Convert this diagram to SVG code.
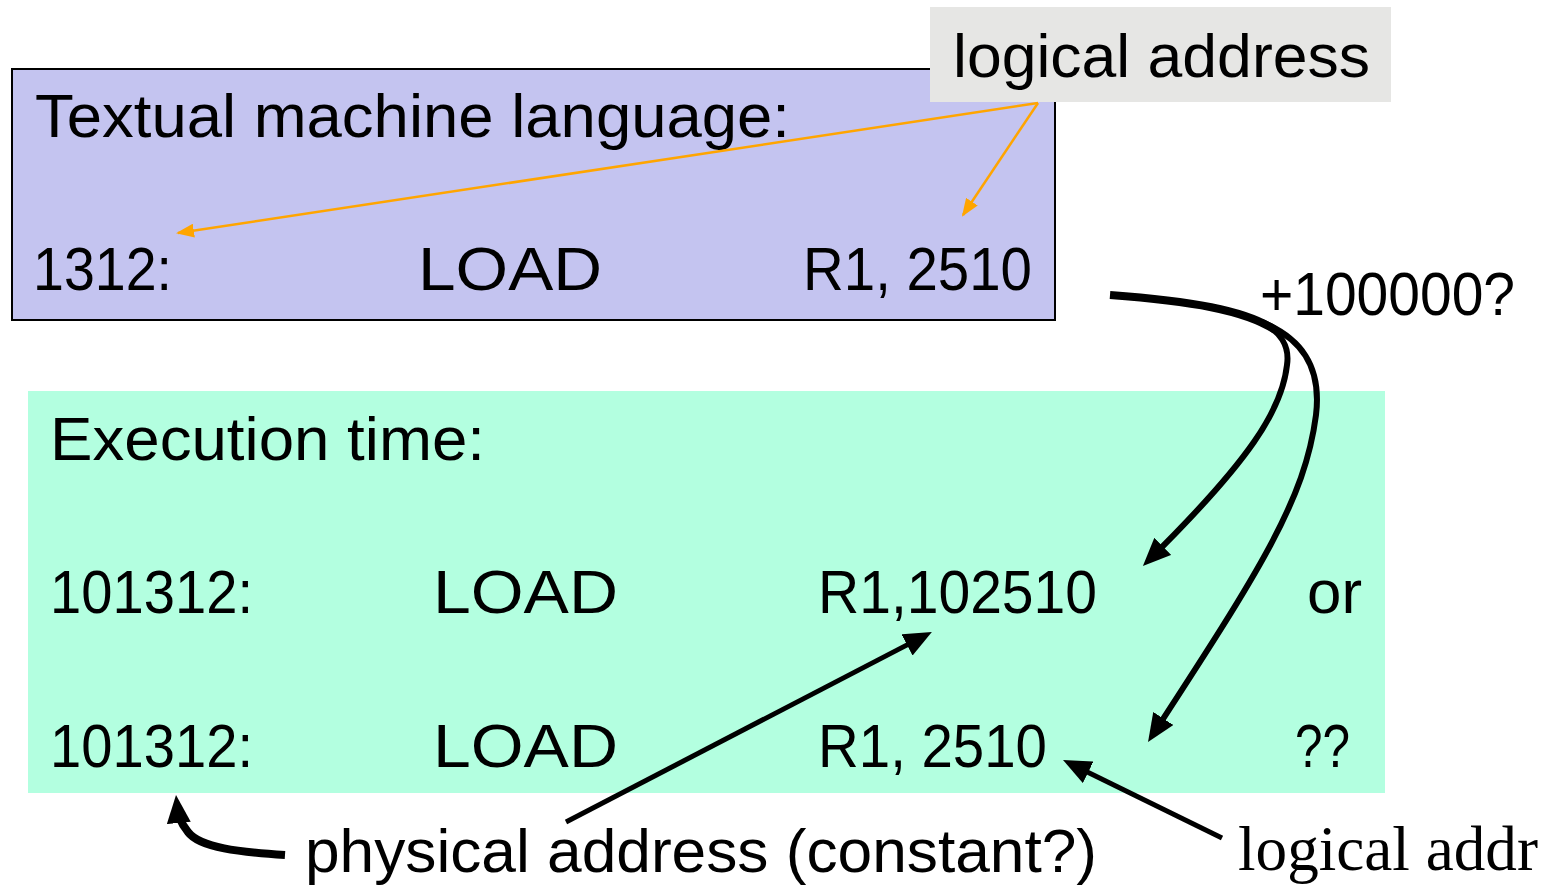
<svg xmlns="http://www.w3.org/2000/svg" width="1552" height="888" viewBox="0 0 1552 888">
<style>
.t{font-family:"Liberation Sans",Arial,sans-serif;font-size:62px;fill:#000}
.s{font-family:"Liberation Serif","Times New Roman",serif;font-size:63px;fill:#000}
.o{stroke:#FFA500;stroke-width:2.5;fill:none}
.k{stroke:#000;fill:none;stroke-linecap:butt}
</style>
<defs>
<marker id="ao" markerUnits="userSpaceOnUse" markerWidth="18" markerHeight="14" refX="16" refY="7" orient="auto">
<path d="M0,0 L18,7 L0,14 Z" fill="#FFA500"/>
</marker>
<marker id="ak" markerUnits="userSpaceOnUse" markerWidth="28" markerHeight="24" refX="18" refY="12" orient="auto">
<path d="M0,0 L28,12 L0,24 Z" fill="#000"/>
</marker>
</defs>
<g id="compile-box">
<rect x="12" y="69" width="1043" height="251" fill="#C4C4F0" stroke="#000" stroke-width="2"/>
<text class="t" x="35" y="137" textLength="755" lengthAdjust="spacingAndGlyphs">Textual machine language:</text>
<text class="t" x="33" y="290" textLength="139" lengthAdjust="spacingAndGlyphs">1312:</text>
<text class="t" x="418" y="290" textLength="184" lengthAdjust="spacingAndGlyphs">LOAD</text>
<text class="t" x="803" y="290" textLength="229" lengthAdjust="spacingAndGlyphs">R1, 2510</text>
</g>
<g id="logical-address-label">
<rect x="930" y="7" width="461" height="95" fill="#E6E6E4"/>
<text class="t" x="953" y="77" textLength="417" lengthAdjust="spacingAndGlyphs">logical address</text>
</g>
<g id="exec-box">
<rect x="28" y="391" width="1357" height="402" fill="#B3FFE0"/>
<text class="t" x="50" y="460" textLength="435" lengthAdjust="spacingAndGlyphs">Execution time:</text>
<text class="t" x="50" y="613" textLength="203" lengthAdjust="spacingAndGlyphs">101312:</text>
<text class="t" x="433" y="613" textLength="185" lengthAdjust="spacingAndGlyphs">LOAD</text>
<text class="t" x="818" y="613" textLength="279" lengthAdjust="spacingAndGlyphs">R1,102510</text>
<text class="t" x="1307" y="613" textLength="55" lengthAdjust="spacingAndGlyphs">or</text>
<text class="t" x="50" y="767" textLength="203" lengthAdjust="spacingAndGlyphs">101312:</text>
<text class="t" x="433" y="767" textLength="185" lengthAdjust="spacingAndGlyphs">LOAD</text>
<text class="t" x="818" y="767" textLength="229" lengthAdjust="spacingAndGlyphs">R1, 2510</text>
<text class="t" x="1295" y="767" textLength="55" lengthAdjust="spacingAndGlyphs">??</text>
</g>
<g id="offset-label">
<text class="t" x="1260" y="315" textLength="255" lengthAdjust="spacingAndGlyphs">+100000?</text>
</g>
<g id="physical-address-label">
<text class="t" x="305" y="872" textLength="792" lengthAdjust="spacingAndGlyphs">physical address (constant?)</text>
</g>
<g id="logical-addr-label">
<text class="s" x="1238" y="870" textLength="300" lengthAdjust="spacingAndGlyphs">logical addr</text>
</g>
<g id="connectors">
<line class="o" x1="1038" y1="103" x2="178" y2="233" marker-end="url(#ao)"/>
<line class="o" x1="1038" y1="103" x2="963" y2="215" marker-end="url(#ao)"/>
<path class="k" d="M1110,295 C1190,301 1245,310 1275,330" stroke-width="8"/>
<path class="k" d="M1262,322 C1280,332 1290,345 1287,365 C1282,410 1250,460 1150,559" stroke-width="6" marker-end="url(#ak)"/>
<path class="k" d="M1262,322 C1300,338 1322,365 1316,415 C1305,500 1260,570 1153.5,733.6" stroke-width="6" marker-end="url(#ak)"/>
<line class="k" x1="566" y1="822" x2="923" y2="636.6" stroke-width="5" marker-end="url(#ak)"/>
<path class="k" d="M285,855 C240,852 200,848 188,832 C180,822 178,815 177,805" stroke-width="8" marker-end="url(#ak)"/>
<line class="k" x1="1222" y1="838" x2="1072" y2="764.4" stroke-width="5" marker-end="url(#ak)"/>
</g>
</svg>
